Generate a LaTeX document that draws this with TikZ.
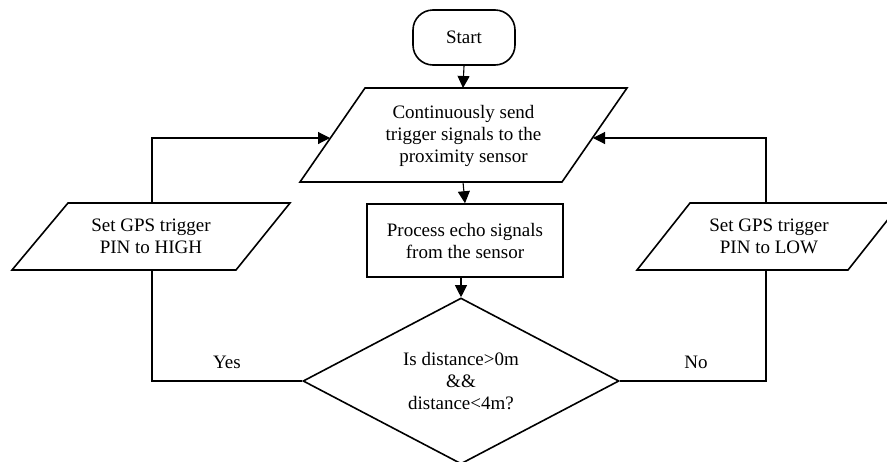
\documentclass[tikz,border=0pt]{standalone}
\usepackage{fontspec}
\setmainfont{Liberation Serif}
\usetikzlibrary{shapes.geometric,arrows.meta}
\tikzset{
  txt/.style={align=center,font=\fontsize{19}{22}\selectfont,inner sep=0pt},
  boxshape/.style={draw=black,line width=1.6pt,line join=miter},
  procbox/.style={boxshape,txt,minimum width=196pt,minimum height=73pt},
  startbox/.style={boxshape,txt,rounded corners=20pt,minimum width=102pt,minimum height=55pt},
  decbox/.style={boxshape,txt,shape=diamond,aspect=1.9,minimum width=316pt,minimum height=166pt},
  conn/.style={draw=black,line width=1.1pt},
  arr/.style={conn,-{Triangle[length=12pt,width=12pt]}},
  lbl/.style={txt}
}
\begin{document}
\begin{tikzpicture}[x=1pt,y=-1pt]
\useasboundingbox (0,0) rectangle (887,461);
\clip (0,0) rectangle (887,461);
% start
\node[startbox] (start) at (464,37.5) {Start};
% main input parallelogram
\draw[boxshape] (365,88) -- (627,88) -- (562,182) -- (300,182) -- cycle;
\node[txt] (inp) at (463.5,136) {Continuously send\\trigger signals to the\\proximity sensor};
\coordinate (inpN) at (463,88);
\coordinate (inpS) at (463,182);
\coordinate (inpW) at (330,138);
\coordinate (inpE) at (593,138);
% process
\node[procbox] (proc) at (465,240.5) {Process echo signals\\from the sensor};
% decision
\node[decbox] (dec) at (461,381) {Is distance>0m\\\&\&\\distance<4m?};
% left parallelogram
\draw[boxshape] (68,203) -- (290,203) -- (236,270) -- (12,270) -- cycle;
\node[txt] (lp) at (151,236.5) {Set GPS trigger\\PIN to HIGH};
\coordinate (lpN) at (152,203);
\coordinate (lpS) at (152,270);
% right parallelogram
\draw[boxshape] (690,203) -- (901,203) -- (848,270) -- (637,270) -- cycle;
\node[txt] (rp) at (769,236.5) {Set GPS trigger\\PIN to LOW};
\coordinate (rpN) at (766,203);
\coordinate (rpS) at (766,270);
% connectors
\draw[arr] (start.south) -- (inpN);
\draw[arr] (inpS) -- (proc.north);
\draw[arr] (proc.south -| dec.north) -- (dec.north);
\draw[conn] (dec.west) -| (lpS);
\draw[arr] (lpN) |- (inpW);
\draw[conn] (dec.east) -| (rpS);
\draw[arr] (rpN) |- (inpE);
% labels
\node[lbl] (yes) at (227,362) {Yes};
\node[lbl] (no) at (696,362) {No};
\end{tikzpicture}
\end{document}
